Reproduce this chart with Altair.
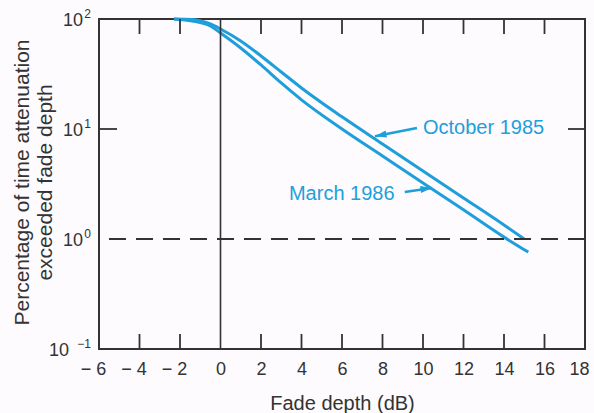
import altair as alt
import pandas as pd

# ---- data ----
x_ticks = [-6, -4, -2, 0, 2, 4, 6, 8, 10, 12, 14, 16, 18]
inner_x_ticks = [-4, -2, 2, 4, 6, 8, 10, 12, 14, 16]
y_tick_values = [100, 10, 1, 0.1]
y_tick_exps = ["2", "1", "0", "\u22121"]
left_tick_values = [10]
right_tick_values = [10, 1]
threshold = [1]
zero_line = [0]

oct_x = [-2.3, -1.4, -0.5, 0, 1, 2, 3, 4, 6, 8, 10, 12, 14, 15]
oct_y = [100, 99.0, 90.1, 81.1, 63.1, 46.1, 33.0, 23.6, 12.9, 7.31, 4.15, 2.36, 1.34, 1.0]
mar_x = [-2.3, -1.4, -0.5, 0, 1, 2, 3, 4, 6, 8, 10, 12, 14, 15.2]
mar_y = [100, 95.9, 86.3, 74.6, 54.5, 38.2, 26.2, 18.4, 10, 5.68, 3.23, 1.84, 1.04, 0.76]

label_text = ["October 1985", "March 1986"]
label_x = [10.0, 3.38]
label_y = [10.2, 2.57]
arrow_tail_x = [9.7, 9.1]
arrow_tail_y = [10.2, 2.67]
arrow_tip_x = [7.63, 10.44]
arrow_tip_y = [8.6, 2.91]

BLUE = "#1e9fdc"
INK = "#333333"
FONT = "Liberation Sans"
W, H = 486, 330

curves = pd.concat([
    pd.DataFrame({"series": "October 1985", "x": oct_x, "y": oct_y}),
    pd.DataFrame({"series": "March 1986", "x": mar_x, "y": mar_y}),
])
ylab = pd.DataFrame({"y": y_tick_values, "exp": y_tick_exps})
ann = pd.DataFrame({"text": label_text, "x": label_x, "y": label_y})
arrows = pd.DataFrame({"x": arrow_tail_x, "y": arrow_tail_y,
                       "x2": arrow_tip_x, "y2": arrow_tip_y, "name": label_text})

xs = alt.Scale(domain=[-6, 18], nice=False, zero=False)
ys = alt.Scale(type="log", domain=[0.1, 100], nice=False)

x_axis = alt.Axis(
    values=x_ticks,
    labelExpr="datum.value < 0 ? '\u2212 ' + abs(datum.value) : '' + datum.value",
    labelOffset={"condition": {"test": "datum.value < 0 || datum.value > 17", "value": -6}, "value": 0},
    ticks=False, tickSize=0, domain=False, grid=False,
    labelPadding=11, labelFont=FONT, labelFontSize=18, labelColor=INK,
    labelFlush=False, labelOverlap=False,
    titleFont=FONT, titleFontSize=20, titleFontWeight="normal", titleColor=INK,
    titleBaseline="alphabetic", titleY=60, titleX=W / 2,
)
y_axis = alt.Axis(
    values=y_tick_values,
    labels=False, ticks=False, tickSize=0, domain=False, grid=False,
    titleFont=FONT, titleFontSize=21, titleFontWeight="normal", titleColor=INK,
    titleAngle=-90, titleBaseline="top", titleAlign="center",
    titleX=-88, titleY=163, titleLineHeight=23,
)

X = alt.X("x:Q", scale=xs)
Y = alt.Y("y:Q", scale=ys)

lines = alt.Chart(curves).mark_line(
    strokeWidth=3, color=BLUE, interpolate="monotone"
).encode(
    x=alt.X("x:Q", scale=xs, axis=x_axis, title="Fade depth (dB)"),
    y=alt.Y("y:Q", scale=ys, axis=y_axis,
            title=["Percentage of time attenuation", "exceeded fade depth"]),
    detail="series:N",
)

vline = alt.Chart(pd.DataFrame({"x": zero_line})).mark_rule(
    color=INK, strokeWidth=1.6
).encode(x=X)

dash = alt.Chart(pd.DataFrame({"y": threshold})).mark_rule(
    color=INK, strokeWidth=1.8, strokeDash=[17, 10]
).encode(y=Y)

tick_df = pd.DataFrame({"x": inner_x_ticks})
top_ticks = alt.Chart(tick_df).mark_rule(color=INK, strokeWidth=1.8).encode(
    x=X, y=alt.value(0), y2=alt.value(15))
bottom_ticks = alt.Chart(tick_df).mark_rule(color=INK, strokeWidth=1.8).encode(
    x=X, y=alt.value(H - 15), y2=alt.value(H))
left_ticks = alt.Chart(pd.DataFrame({"y": left_tick_values})).mark_rule(
    color=INK, strokeWidth=1.8).encode(y=Y, x=alt.value(0), x2=alt.value(18))
right_ticks = alt.Chart(pd.DataFrame({"y": right_tick_values})).mark_rule(
    color=INK, strokeWidth=1.8).encode(y=Y, x=alt.value(W - 17), x2=alt.value(W))

ylab_base = alt.Chart(ylab)
ten_big = ylab_base.transform_filter("datum.y >= 1").mark_text(
    align="right", baseline="middle", font=FONT, fontSize=18, color=INK, dy=2
).encode(y=Y, x=alt.value(-16), text=alt.value("10"))
ten_small = ylab_base.transform_filter("datum.y < 1").mark_text(
    align="right", baseline="middle", font=FONT, fontSize=18, color=INK, dy=2
).encode(y=Y, x=alt.value(-30), text=alt.value("10"))
exps = ylab_base.mark_text(
    align="right", baseline="middle", font=FONT, fontSize=12, color=INK, dy=-5
).encode(y=Y, x=alt.value(-8), text="exp:N")

labels = alt.Chart(ann).mark_text(
    align="left", baseline="middle", font=FONT, fontSize=20, color=BLUE
).encode(x=X, y=Y, text="text:N")

shafts = alt.Chart(arrows).mark_rule(color=BLUE, strokeWidth=2.5).encode(
    x=X, y=Y, x2="x2:Q", y2="y2:Q")
head_shape = "M0,0L0.7,2.3L-0.7,2.3Z"
head_oct = alt.Chart(arrows).transform_filter("datum.name == 'October 1985'").mark_point(
    shape=head_shape, size=100, filled=True, opacity=1, color=BLUE, angle=259, strokeWidth=0
).encode(x=alt.X("x2:Q", scale=xs), y=alt.Y("y2:Q", scale=ys))
head_mar = alt.Chart(arrows).transform_filter("datum.name == 'March 1986'").mark_point(
    shape=head_shape, size=100, filled=True, opacity=1, color=BLUE, angle=82, strokeWidth=0
).encode(x=alt.X("x2:Q", scale=xs), y=alt.Y("y2:Q", scale=ys))

chart = alt.layer(
    lines, vline, dash, top_ticks, bottom_ticks, left_ticks, right_ticks,
    ten_big, ten_small, exps, labels, shafts, head_oct, head_mar,
).properties(
    width=W, height=H,
    autosize=alt.AutoSizeParams(type="none"),
    padding={"left": 99, "top": 19, "right": 9, "bottom": 64},
    background="#fdfbfd",
).configure_view(stroke=INK, strokeWidth=2)

chart.save("out.html", embed_options={"renderer": "svg", "actions": False})
